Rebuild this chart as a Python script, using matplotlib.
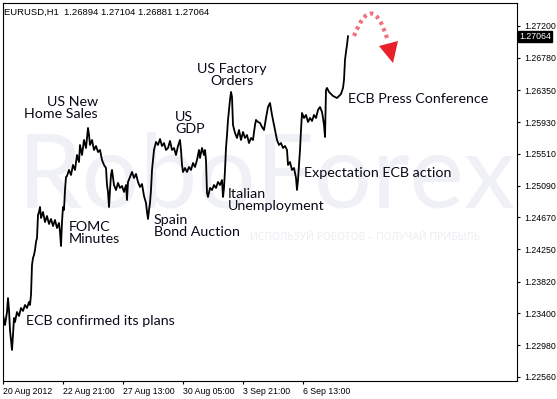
import matplotlib
matplotlib.use('Agg')
import matplotlib.pyplot as plt
import matplotlib.transforms as mtransforms
from matplotlib.path import Path
from matplotlib.patches import PathPatch, Polygon

# --- dados (posicao da barra H1, preco de fechamento) ---
bar = [1, 3, 5, 7, 8, 9, 10, 11, 12, 13, 14, 15, 17, 19, 21, 23, 25, 27, 29, 30,
       31, 32, 33, 34, 35, 36, 37, 38, 39, 40, 41, 43, 45, 47, 49, 51, 53, 55, 57, 59,
       60, 61, 62, 63, 64, 65, 66, 67, 69, 71, 73, 75, 77, 79, 80, 82, 84, 86, 88, 89,
       90, 92, 94, 96, 98, 100, 102, 104, 106, 107, 108, 109, 110, 111, 112, 114, 116, 118, 120, 122,
       124, 126, 127, 128, 130, 132, 134, 136, 138, 140, 142, 144, 146, 147, 148, 149, 150, 151, 152, 153,
       154, 156, 158, 160, 162, 164, 166, 168, 170, 172, 174, 176, 178, 180, 181, 182, 183, 185, 187, 189,
       191, 193, 195, 197, 199, 200, 202, 204, 205, 206, 207, 208, 210, 212, 214, 216, 218, 220, 222, 223,
       224, 225, 226, 227, 228, 229, 230, 231, 232, 233, 235, 237, 239, 241, 243, 245, 247, 249, 251, 253,
       255, 256, 258, 260, 262, 264, 266, 268, 270, 272, 274, 275, 277, 279, 281, 283, 285, 287, 288, 290,
       292, 294, 296, 297, 298, 299, 300, 301, 302, 304, 306, 308, 310, 312, 314, 316, 318, 320, 322, 323,
       324, 325, 326, 327, 329, 331, 333, 335, 337, 339, 341, 343, 344, 345, 346, 347, 348]

close = [1.23287, 1.23380, 1.23247, 1.23419, 1.23604, 1.23446, 1.23181, 1.23049, 1.22917, 1.23115,
         1.23340, 1.23287, 1.23419, 1.23366, 1.23472, 1.23433, 1.23512, 1.23472, 1.23552, 1.23512,
         1.23644, 1.24041, 1.24133, 1.24173, 1.24239, 1.24345, 1.24398, 1.24702, 1.24741, 1.24807,
         1.24662, 1.24741, 1.24609, 1.24688, 1.24583, 1.24649, 1.24556, 1.24636, 1.24530, 1.24596,
         1.24477, 1.24292, 1.24609, 1.24807, 1.24768, 1.25032, 1.25204, 1.25217, 1.25297, 1.25230,
         1.25363, 1.25297, 1.25495, 1.25402, 1.25627, 1.25495, 1.25693, 1.25587, 1.25852, 1.25759,
         1.25627, 1.25693, 1.25561, 1.25614, 1.25534, 1.25561, 1.25429, 1.25363, 1.25323, 1.25098,
         1.25006, 1.24807, 1.25032, 1.25230, 1.25297, 1.25098, 1.25032, 1.25125, 1.25059, 1.25085,
         1.25006, 1.25098, 1.24900, 1.25138, 1.25204, 1.25270, 1.25191, 1.25244, 1.25138, 1.25072,
         1.25111, 1.24953, 1.24860, 1.24741, 1.24649, 1.24768, 1.24860, 1.25032, 1.25297, 1.25429,
         1.25561, 1.25667, 1.25627, 1.25706, 1.25614, 1.25653, 1.25561, 1.25587, 1.25680, 1.25561,
         1.25587, 1.25495, 1.25614, 1.25693, 1.25561, 1.25363, 1.25270, 1.25323, 1.25270, 1.25336,
         1.25297, 1.25389, 1.25336, 1.25429, 1.25561, 1.25455, 1.25587, 1.25495, 1.25561, 1.25429,
         1.24992, 1.24940, 1.25059, 1.25032, 1.25098, 1.25059, 1.25138, 1.25098, 1.25164, 1.24940,
         1.25059, 1.25297, 1.25587, 1.25759, 1.25958, 1.26090, 1.26222, 1.26328, 1.26262, 1.25891,
         1.25786, 1.25720, 1.25825, 1.25693, 1.25799, 1.25720, 1.25759, 1.25653, 1.25720, 1.25693,
         1.25891, 1.25958, 1.25931, 1.25918, 1.25865, 1.25825, 1.25984, 1.26129, 1.26182, 1.26024,
         1.25891, 1.25825, 1.25693, 1.25627, 1.25653, 1.25587, 1.25614, 1.25561, 1.25363, 1.25402,
         1.25297, 1.25323, 1.25191, 1.25032, 1.25164, 1.25363, 1.25561, 1.25825, 1.26050, 1.25984,
         1.26024, 1.25931, 1.25984, 1.25944, 1.26024, 1.25984, 1.26090, 1.26129, 1.26063, 1.25984,
         1.25891, 1.25733, 1.26354, 1.26381, 1.26328, 1.26301, 1.26275, 1.26262, 1.26248, 1.26275,
         1.26301, 1.26381, 1.26486, 1.26751, 1.26857, 1.26949, 1.27064]

price_ticks = [1.22560, 1.22980, 1.23400, 1.23820, 1.24250, 1.24670, 1.25090,
               1.25510, 1.25930, 1.26350, 1.26780, 1.27200]
date_ticks = [3, 63, 123, 183, 243, 303]
date_labels = ['20 Aug 2012', '22 Aug 21:00', '27 Aug 13:00', '30 Aug 05:00',
               '3 Sep 21:00', '6 Sep 13:00']
last_price = 1.27064

assert len(bar) == len(close)

W, H = 557, 399
fig = plt.figure(figsize=(W / 100, H / 100), dpi=100)
fig.patch.set_facecolor('white')
ax = fig.add_axes([2.7 / W, 18 / H, (517 - 2.7) / W, 378 / H])
ax.set_facecolor('white')

# transformacao em pixels da imagem (origem no canto superior esquerdo)
pix = mtransforms.Affine2D().scale(1 / W, -1 / H).translate(0, 1) + fig.transFigure

# marca d'agua
ax.text(18, 178, 'RoboForex', transform=pix, fontsize=74, family='Lato',
        color='#eff1f6', va='center', ha='left', zorder=0, clip_on=False)
ax.text(250, 238, 'ИСПОЛЬЗУЙ РОБОТОВ – ПОЛУЧАЙ ПРИБЫЛЬ', transform=pix, fontsize=7.5,
        family='Noto Sans', color='#eceef2', va='center', ha='left', zorder=0, clip_on=False)

ax.plot(bar, close, color='black', lw=1.3, zorder=2)

ax.set_xlim(2.7, 517)
ax.set_ylim(1.22507, 1.27504)
ax.set_xticks(date_ticks)
ax.set_xticklabels(date_labels, ha='left')
ax.set_yticks(price_ticks)
ax.set_yticklabels(['%.5f' % p for p in price_ticks])
ax.yaxis.tick_right()
ax.tick_params(axis='both', direction='out', length=2.5, width=0.8, color='black',
               labelsize=6.3, pad=1.5)
ax.tick_params(axis='y', pad=3)
for lab in ax.get_xticklabels() + ax.get_yticklabels():
    lab.set_family('Liberation Sans')
for sp in ax.spines.values():
    sp.set_linewidth(0.8)
    sp.set_color('black')

# preco atual
ax.text(1.004, last_price, '%.5f' % last_price, transform=ax.get_yaxis_transform(),
        fontsize=6.3, family='Liberation Sans', color='white', va='center', ha='left',
        bbox=dict(facecolor='black', edgecolor='black', pad=0.8), clip_on=False, zorder=5)

# titulo
fig.text(4 / W, 1 - 12 / H, 'EURUSD,H1  1.26894 1.27104 1.26881 1.27064',
         fontsize=6.8, family='Liberation Sans', va='center', ha='left')

# anotacoes
fs = 10.3
tc = '#0a0a18'
notes = [
    (26, 321, 'ECB confirmed its plans', 'left'),
    (69, 233, 'FOMC\nMinutes', 'left'),
    (98, 108, 'US New\nHome Sales', 'right'),
    (175, 123, 'US\nGDP', 'left'),
    (154, 226, 'Spain\nBond Auction', 'left'),
    (232, 75, 'US Factory\nOrders', 'center'),
    (228, 200, 'Italian\nUnemployment', 'left'),
    (304, 173, 'Expectation ECB action', 'left'),
    (348, 99, 'ECB Press Conference', 'left'),
]
for x, y, s, ha in notes:
    ax.text(x, y, s, transform=pix, fontsize=fs, family='Lato', color=tc,
            va='center', ha=ha, multialignment=ha, linespacing=0.95, zorder=4, clip_on=False)

# seta vermelha pontilhada
arc = Path([(354, 36), (372, -10), (387, 38)], [Path.MOVETO, Path.CURVE3, Path.CURVE3])
ax.add_patch(PathPatch(arc, transform=pix, fill=False, edgecolor='#f07080', lw=3,
                       linestyle=(0, (0.8, 0.9)), clip_on=False, zorder=4))
ax.add_patch(Polygon([(379, 46), (398, 41), (393, 63)], closed=True, transform=pix,
                     facecolor='#e8202a', edgecolor='none', clip_on=False, zorder=4))

fig.savefig('out.png', dpi=100)
